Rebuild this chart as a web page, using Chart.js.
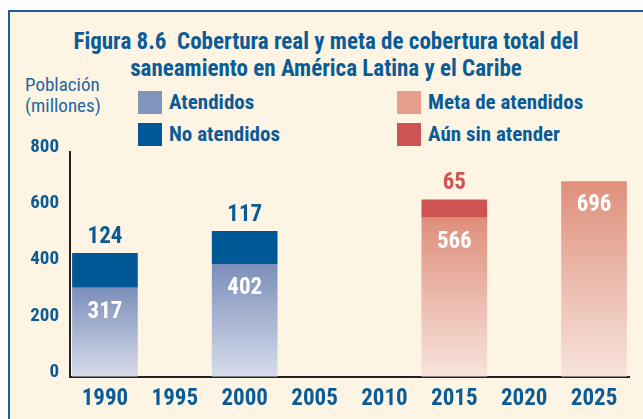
<!DOCTYPE html>
<html>
<head>
<meta charset="utf-8">
<script src="https://cdn.jsdelivr.net/npm/chart.js@4.4.1/dist/chart.umd.min.js"></script>
<style>
  body { margin: 0; background: #fff; }
  #wrap { position: relative; width: 643px; height: 419px; overflow: hidden; }
  #frame {
    position: absolute; left: 8px; top: 10px; width: 700px; height: 500px;
    border: 2px solid #1d5e98; background: #fef4e3;
  }
  canvas { position: absolute; left: 0; top: 0; }
  .txt {
    position: absolute; white-space: nowrap; color: #0b5c96;
    font-family: "Roboto Condensed", "Open Sans", sans-serif; font-stretch: condensed;
  }
  #title { left: 0; width: 652px; top: 28px; text-align: center; font-weight: bold; font-size: 23px; line-height: 27px; }
  #ytitle { left: 25px; top: 74px; font-size: 19px; line-height: 21px; color: #2366a0; }
  .leg { position: absolute; display: flex; align-items: center; }
  .leg span.box { display: inline-block; width: 24px; height: 23px; margin-right: 7px; }
  .leg span.name { font-weight: bold; font-size: 21px; color: #0b5c96;
    font-family: "Roboto Condensed", "Open Sans", sans-serif; font-stretch: condensed; white-space: nowrap; }
</style>
</head>
<body>
<div id="wrap">
  <div id="frame"></div>
  <div id="title" class="txt">Figura 8.6&nbsp;&nbsp;Cobertura real y meta de cobertura total del<br>saneamiento en América Latina y el Caribe</div>
  <div id="ytitle" class="txt">Población<br>(millones)</div>
  <div id="legend"></div>
  <canvas id="chart" width="643" height="419"></canvas>
</div>
<script>
const years = ["1990", "1995", "2000", "2005", "2010", "2015", "2020", "2025"];
const atendidos = [317, null, 402, null, null, null, null, null];
const noAtendidos = [124, null, 117, null, null, null, null, null];
const metaAtendidos = [null, null, null, null, null, 566, null, 696];
const sinAtender = [null, null, null, null, null, 65, null, null];
const yTicks = [0, 200, 400, 600, 800];

const font = "'Roboto Condensed', 'Open Sans', sans-serif";
const blue = "#0b5c96";

// vertical fade for the lower part of each bar
function fade(top, bottom) {
  return (context) => {
    const chart = context.chart;
    const area = chart.chartArea;
    const v = context.raw;
    if (!area || v == null) return top;
    const y = chart.scales.y.getPixelForValue(v);
    const g = chart.ctx.createLinearGradient(0, y, 0, area.bottom);
    g.addColorStop(0, top);
    g.addColorStop(1, bottom);
    return g;
  };
}

const valueLabels = {
  id: "valueLabels",
  afterDatasetsDraw(chart) {
    const c = chart.ctx;
    c.save();
    c.font = "bold 23px " + font;
    c.textAlign = "center";
    c.textBaseline = "middle";
    chart.data.datasets.forEach((ds, i) => {
      chart.getDatasetMeta(i).data.forEach((bar, j) => {
        const v = ds.data[j];
        if (v == null) return;
        if (ds.labelInside) {
          c.fillStyle = "#fff";
          c.fillText(v, bar.x, bar.y + 24);
        } else {
          c.fillStyle = ds.labelColor;
          c.fillText(v, bar.x, bar.y - 16);
        }
      });
    });
    c.restore();
  },
};

const chart = new Chart(document.getElementById("chart"), {
  type: "bar",
  data: {
    labels: years,
    datasets: [
      {
        label: "Atendidos",
        data: atendidos,
        backgroundColor: fade("#7c8fba", "#d6dcea"),
        legendColor: "#8094bc",
        labelInside: true,
      },
      {
        label: "No atendidos",
        data: noAtendidos,
        backgroundColor: "#005996",
        legendColor: "#005996",
        labelColor: blue,
      },
      {
        label: "Meta de atendidos",
        data: metaAtendidos,
        backgroundColor: fade("#df8f7c", "#f7e4dc"),
        legendColor: "#e4a08a",
        labelInside: true,
      },
      {
        label: "Aún sin atender",
        data: sinAtender,
        backgroundColor: "#cd5452",
        legendColor: "#cd5452",
        labelColor: "#cd5452",
      },
    ],
  },
  options: {
    responsive: false,
    animation: false,
    layout: { padding: { top: 152, right: 14, left: 0, bottom: 0 } },
    datasets: { bar: { categoryPercentage: 1, barPercentage: 0.94, skipNull: true } },
    plugins: {
      legend: { display: false },
      tooltip: { enabled: false },
    },
    scales: {
      x: {
        stacked: true,
        offset: true,
        grid: { display: true, drawOnChartArea: false, drawTicks: false },
        border: { color: "#222", width: 2 },
        ticks: {
          color: blue,
          autoSkip: false,
          maxRotation: 0,
          padding: 8,
          font: { family: font, size: 23, weight: "bold" },
        },
        afterFit: (s) => { s.height = 42; },
      },
      y: {
        stacked: true,
        min: 0,
        max: 800,
        grid: { display: true, drawOnChartArea: false, drawTicks: false },
        border: { color: "#222", width: 2 },
        afterBuildTicks: (s) => { s.ticks = yTicks.map((v) => ({ value: v })); },
        ticks: {
          color: blue,
          padding: 11,
          labelOffset: -5,
          font: { family: font, size: 19, weight: "bold" },
        },
        afterFit: (s) => { s.width = 70; },
      },
    },
  },
  plugins: [valueLabels],
});

// legend: two columns, two rows
const legendSpots = [
  { left: 138, top: 90 },
  { left: 138, top: 122 },
  { left: 397, top: 90 },
  { left: 397, top: 122 },
];
const legend = document.getElementById("legend");
chart.data.datasets.forEach((ds, i) => {
  const item = document.createElement("div");
  item.className = "leg";
  item.style.left = legendSpots[i].left + "px";
  item.style.top = legendSpots[i].top + "px";
  item.innerHTML = '<span class="box" style="background:' + ds.legendColor + '"></span><span class="name">' + ds.label + "</span>";
  legend.appendChild(item);
});
</script>
</body>
</html>
